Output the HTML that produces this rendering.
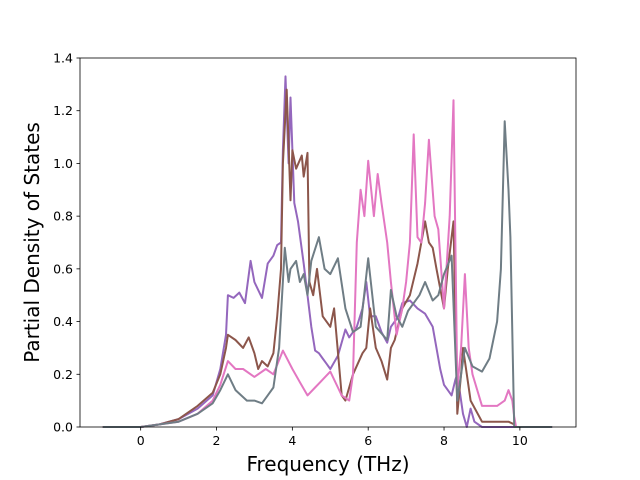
<!DOCTYPE html>
<html><head><meta charset="utf-8"><style>
body{margin:0;background:#fff}
svg{display:block;font-family:"DejaVu Sans","Liberation Sans",sans-serif}
</style></head><body>
<svg id="chart" width="640" height="480"></svg>
<script>
const xTicks=[0,2,4,6,8,10];
const yTicks=[0.0,0.2,0.4,0.6,0.8,1.0,1.2,1.4];
const seriesNames=["purple","brown","pink","gray"];
const seriesColors=["#9467bd","#8c564b","#e377c2","#6f7d85"];
const purpleX=[-1,0,0.5,1,1.5,1.9,2.1,2.25,2.3,2.45,2.6,2.75,2.9,3.0,3.2,3.35,3.5,3.6,3.7,3.75,3.82,3.9,3.95,4.05,4.15,4.3,4.4,4.5,4.6,4.7,4.8,4.9,5.0,5.2,5.4,5.5,5.7,5.85,5.95,6.05,6.2,6.35,6.5,6.6,6.8,6.9,7.1,7.3,7.5,7.7,7.9,8.0,8.1,8.2,8.3,8.35,8.5,8.6,8.7,8.8,9.0,9.5,10,10.85];
const purpleY=[0,0,0.01,0.03,0.07,0.12,0.22,0.35,0.5,0.49,0.51,0.47,0.63,0.55,0.49,0.62,0.65,0.69,0.7,1.05,1.33,1.0,1.25,0.85,0.78,0.62,0.5,0.38,0.29,0.28,0.26,0.24,0.22,0.27,0.37,0.34,0.38,0.45,0.55,0.42,0.42,0.36,0.32,0.38,0.42,0.47,0.48,0.45,0.43,0.38,0.22,0.16,0.14,0.12,0.18,0.2,0.05,0,0.07,0.02,0,0,0,0];
const brownX=[-1,0,0.5,1,1.5,1.9,2.1,2.25,2.3,2.5,2.7,2.85,3.0,3.1,3.2,3.35,3.5,3.6,3.7,3.75,3.85,3.95,4.0,4.1,4.25,4.3,4.4,4.45,4.55,4.65,4.8,4.9,5.0,5.1,5.3,5.4,5.6,5.85,5.95,6.05,6.2,6.35,6.5,6.6,6.7,6.9,7.1,7.3,7.5,7.6,7.7,7.8,8.0,8.1,8.25,8.35,8.45,8.5,8.7,9.0,9.7,9.85,9.9,10.85];
const brownY=[0,0,0.01,0.03,0.08,0.13,0.2,0.3,0.35,0.33,0.3,0.34,0.28,0.22,0.25,0.23,0.28,0.42,0.6,1.0,1.28,0.86,1.05,0.98,1.03,0.95,1.04,0.55,0.5,0.6,0.42,0.4,0.38,0.45,0.12,0.1,0.2,0.28,0.3,0.45,0.3,0.25,0.18,0.3,0.33,0.45,0.5,0.62,0.78,0.7,0.68,0.6,0.45,0.6,0.78,0.05,0.2,0.3,0.1,0.02,0.02,0.01,0,0];
const pinkX=[-1,0,0.5,1,1.5,1.9,2.1,2.3,2.5,2.7,3.0,3.3,3.5,3.75,4.0,4.2,4.4,4.6,4.8,5.0,5.2,5.3,5.5,5.6,5.7,5.8,5.9,6.0,6.15,6.25,6.35,6.5,6.6,6.75,6.9,7.0,7.1,7.2,7.3,7.4,7.5,7.6,7.75,7.85,8.0,8.15,8.25,8.35,8.45,8.55,8.65,8.75,9.0,9.4,9.6,9.7,9.8,9.85,9.9,10.85];
const pinkY=[0,0,0.01,0.02,0.05,0.1,0.16,0.25,0.22,0.22,0.19,0.22,0.2,0.29,0.22,0.17,0.12,0.15,0.18,0.21,0.15,0.12,0.1,0.2,0.7,0.9,0.8,1.01,0.8,0.96,0.85,0.7,0.55,0.35,0.45,0.55,0.7,1.11,0.72,0.7,0.85,1.09,0.8,0.75,0.45,0.8,1.24,0.15,0.3,0.58,0.3,0.2,0.08,0.08,0.1,0.14,0.1,0.04,0,0];
const grayX=[-1,0,0.5,1,1.5,1.9,2.1,2.3,2.5,2.8,3.0,3.2,3.35,3.5,3.65,3.8,3.9,3.95,4.1,4.2,4.3,4.4,4.5,4.7,4.85,5.0,5.2,5.4,5.6,5.8,6.0,6.2,6.5,6.6,6.75,6.9,7.05,7.2,7.35,7.5,7.7,7.85,8.0,8.2,8.35,8.55,8.75,9.0,9.2,9.4,9.5,9.6,9.7,9.75,9.85,10.85];
const grayY=[0,0,0.01,0.02,0.05,0.09,0.14,0.2,0.14,0.1,0.1,0.09,0.12,0.15,0.3,0.68,0.55,0.6,0.63,0.55,0.58,0.5,0.63,0.72,0.6,0.58,0.64,0.45,0.36,0.38,0.64,0.38,0.33,0.52,0.42,0.38,0.44,0.47,0.5,0.55,0.48,0.5,0.58,0.65,0.1,0.3,0.23,0.21,0.26,0.4,0.6,1.16,0.9,0.72,0,0];
const allX=[purpleX,brownX,pinkX,grayX];
const allY=[purpleY,brownY,pinkY,grayY];

const L=80,R=576,T=58,B=427;
const xMin=-1.6,xMax=11.48,yMin=0,yMax=1.4;
const sx=v=>L+(v-xMin)/(xMax-xMin)*(R-L);
const sy=v=>B-(v-yMin)/(yMax-yMin)*(B-T);
const NS="http://www.w3.org/2000/svg";
const svg=document.getElementById("chart");
function mk(t,a){const e=document.createElementNS(NS,t);for(const k in a)e.setAttribute(k,a[k]);svg.appendChild(e);return e;}

allX.forEach((xs,i)=>{
  const d=xs.map((x,j)=>(j?"L":"M")+sx(x).toFixed(1)+","+sy(allY[i][j]).toFixed(1)).join("");
  const p=mk("path",{d:d,fill:"none",stroke:seriesColors[i],"stroke-width":2,"stroke-linejoin":"round"});
  
  
});
const frame=mk("rect",{x:L,y:T,width:R-L,height:B-T,fill:"none",stroke:"#000","stroke-width":0.8});


xTicks.forEach(v=>{
  const x=sx(v);
  const t=mk("line",{x1:x,x2:x,y1:B,y2:B+3.5,stroke:"#000","stroke-width":0.8});
  
  
  const l=mk("text",{x:x,y:B+18,"text-anchor":"middle","font-size":12.5});
  l.textContent=v;
  
  
});
yTicks.forEach(v=>{
  const y=sy(v);
  const t=mk("line",{x1:L-3.5,x2:L,y1:y,y2:y,stroke:"#000","stroke-width":0.8});
  
  
  const l=mk("text",{x:L-7,y:y+4.5,"text-anchor":"end","font-size":12.5});
  l.textContent=v.toFixed(1);
  
  
});
const xt=mk("text",{x:(L+R)/2,y:471,"text-anchor":"middle","font-size":20});
xt.textContent="Frequency (THz)";


const yt=mk("text",{x:39,y:(T+B)/2,"text-anchor":"middle","font-size":20,transform:"rotate(-90 39 "+((T+B)/2)+")"});
yt.textContent="Partial Density of States";


</script>
</body></html>
